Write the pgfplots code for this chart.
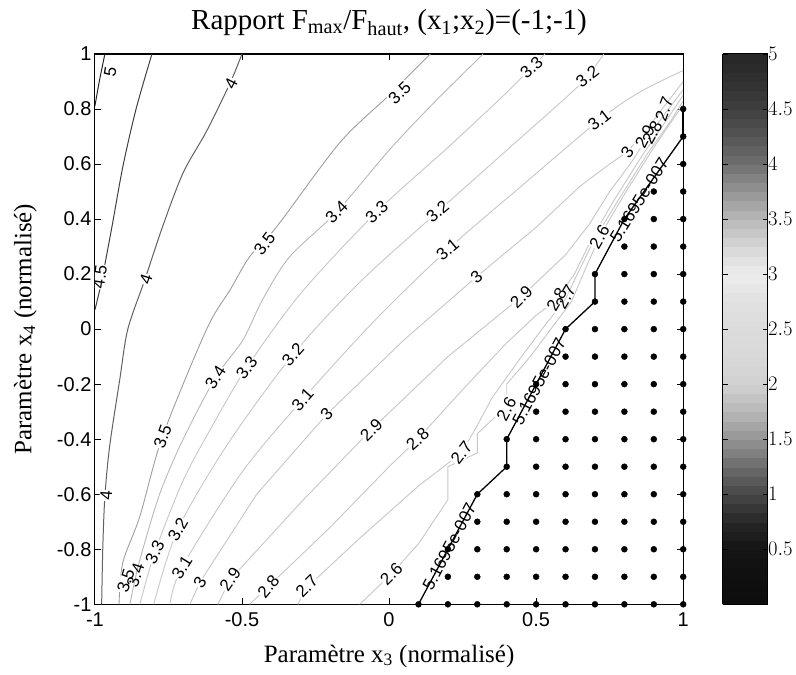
\documentclass[border=0pt]{standalone}
\usepackage{fontspec}
\setmainfont{Liberation Serif}
\setsansfont{Liberation Sans}
\usepackage{pgfplots}
\pgfplotsset{compat=1.18}
\definecolor{cl}{gray}{0.78}
\definecolor{c34}{gray}{0.72}
\definecolor{c35}{gray}{0.62}
\definecolor{c40}{gray}{0.38}
\definecolor{c45}{gray}{0.25}
\definecolor{c50}{gray}{0.15}
\tikzset{
  lab/.style={font=\fontsize{17bp}{17bp}\sffamily, fill=white, inner sep=0.6bp},
  blab/.style={font=\fontsize{17bp}{17bp}\sffamily, inner sep=0.6bp},
}
\pgfplotstableread{
x y
0.1 -1
0.2 -1
0.3 -1
0.4 -1
0.5 -1
0.6 -1
0.7 -1
0.8 -1
0.9 -1
1.0 -1
0.2 -0.9
0.3 -0.9
0.4 -0.9
0.5 -0.9
0.6 -0.9
0.7 -0.9
0.8 -0.9
0.9 -0.9
1.0 -0.9
0.2 -0.8
0.3 -0.8
0.4 -0.8
0.5 -0.8
0.6 -0.8
0.7 -0.8
0.8 -0.8
0.9 -0.8
1.0 -0.8
0.3 -0.7
0.4 -0.7
0.5 -0.7
0.6 -0.7
0.7 -0.7
0.8 -0.7
0.9 -0.7
1.0 -0.7
0.3 -0.6
0.4 -0.6
0.5 -0.6
0.6 -0.6
0.7 -0.6
0.8 -0.6
0.9 -0.6
1.0 -0.6
0.4 -0.5
0.5 -0.5
0.6 -0.5
0.7 -0.5
0.8 -0.5
0.9 -0.5
1.0 -0.5
0.4 -0.4
0.5 -0.4
0.6 -0.4
0.7 -0.4
0.8 -0.4
0.9 -0.4
1.0 -0.4
0.5 -0.3
0.6 -0.3
0.7 -0.3
0.8 -0.3
0.9 -0.3
1.0 -0.3
0.5 -0.2
0.6 -0.2
0.7 -0.2
0.8 -0.2
0.9 -0.2
1.0 -0.2
0.6 -0.1
0.7 -0.1
0.8 -0.1
0.9 -0.1
1.0 -0.1
0.6 0.0
0.7 0.0
0.8 0.0
0.9 0.0
1.0 0.0
0.7 0.1
0.8 0.1
0.9 0.1
1.0 0.1
0.7 0.2
0.8 0.2
0.9 0.2
1.0 0.2
0.8 0.3
0.9 0.3
1.0 0.3
0.8 0.4
0.9 0.4
1.0 0.4
0.9 0.5
1.0 0.5
1.0 0.6
1.0 0.7
1.0 0.8
}\infeas
\begin{document}
\begin{tikzpicture}
\begin{axis}[
  name=main,
  scale only axis, width=589bp, height=551bp,
  xmin=-1, xmax=1, ymin=-1, ymax=1,
  xtick={-1,-0.5,0,0.5,1},
  ytick={-1,-0.8,-0.6,-0.4,-0.2,0,0.2,0.4,0.6,0.8,1},
  tick align=inside, major tick length=6bp,
  tick style={line width=0.8bp, black},
  axis line style={line width=1.2bp},
  /pgf/number format/assume math mode=true,
  ticklabel style={font=\fontsize{20bp}{22bp}\sffamily},
  xticklabel style={yshift=-5bp},
  every axis title/.style={at={(axis description cs:0.5,1.044)}, anchor=base},
  title style={font=\fontsize{29bp}{32bp}\selectfont},
  title={Rapport F\textsubscript{max}/F\textsubscript{haut}, (x\textsubscript{1};x\textsubscript{2})=(-1;-1)},
  every axis x label/.style={at={(axis description cs:0.5,-0.094)}, anchor=center},
  every axis y label/.style={at={(axis description cs:-0.118,0.5)}, rotate=90, anchor=center},
  label style={font=\fontsize{25bp}{28bp}\selectfont},
  xlabel={Paramètre x\textsubscript{3} (normalisé)},
  ylabel={Paramètre x\textsubscript{4} (normalisé)},
  colormap={mat}{rgb(0cm)=(0.05,0.05,0.05); rgb(1cm)=(0.06,0.06,0.06); rgb(2cm)=(0.08,0.08,0.08); rgb(3cm)=(0.15,0.15,0.15); rgb(4cm)=(0.28,0.28,0.28); rgb(5cm)=(0.42,0.42,0.42); rgb(6cm)=(0.58,0.58,0.58); rgb(7cm)=(0.72,0.72,0.72); rgb(8cm)=(0.82,0.82,0.82); rgb(9cm)=(0.85,0.85,0.85); rgb(10cm)=(0.86,0.86,0.86); rgb(11cm)=(0.88,0.88,0.88); rgb(12cm)=(0.93,0.93,0.93); rgb(13cm)=(0.84,0.84,0.84); rgb(14cm)=(0.72,0.72,0.72); rgb(15cm)=(0.58,0.58,0.58); rgb(16cm)=(0.44,0.44,0.44); rgb(17cm)=(0.33,0.33,0.33); rgb(18cm)=(0.25,0.25,0.25); rgb(19cm)=(0.19,0.19,0.19); rgb(20cm)=(0.15,0.15,0.15)},
  point meta min=0, point meta max=5,
  colorbar sampled,
  colorbar style={
    samples=61,
    at={(parent axis.north east)}, anchor=north west, xshift=31bp,
    width=45bp,
    ytick={0.5,1,1.5,2,2.5,3,3.5,4,4.5,5},
    ytick pos=both, yticklabel pos=right,
    tick align=inside, major tick length=5bp,
    tick style={line width=0.8bp, black},
    axis line style={line width=1bp},
    yticklabel style={font=\fontsize{20bp}{22bp}\sffamily, xshift=-3bp},
  },
]
% contour lines
\addplot[c50, line width=1bp, smooth] coordinates {(-1.0,0.81) (-0.985,0.9) (-0.966,1.0)};
\addplot[c45, line width=1bp, smooth] coordinates {(-0.806,1.0) (-0.86,0.8) (-0.905,0.59) (-0.942,0.372) (-0.976,0.18) (-0.993,0.1) (-1.0,0.07)};
\addplot[c40, line width=1bp, smooth] coordinates {(-0.5,1.0) (-0.54,0.895) (-0.62,0.72) (-0.70,0.568) (-0.77,0.372) (-0.83,0.18) (-0.888,0.0) (-0.915,-0.18) (-0.95,-0.427) (-0.966,-0.608) (-0.973,-0.79) (-0.977,-1)};
\addplot[c35, line width=0.9bp, smooth] coordinates {(-0.918,-1) (-0.905,-0.848) (-0.847,-0.68) (-0.77,-0.39) (-0.62,0.0) (-0.54,0.143) (-0.474,0.263) (-0.382,0.372) (-0.168,0.677) (0.0,0.85) (0.14,1.0)};
\addplot[c34, line width=0.9bp, smooth] coordinates {(-0.881,-1) (-0.85,-0.85) (-0.78,-0.6) (-0.7,-0.4) (-0.59,-0.176) (-0.497,-0.04) (-0.43,0.107) (-0.338,0.263) (-0.178,0.426) (0.0,0.65) (0.15,0.82) (0.32,1.0)};
\addplot[cl, line width=0.9bp, smooth] coordinates {(-0.847,-1) (-0.796,-0.81) (-0.7,-0.55) (-0.6,-0.35) (-0.484,-0.14) (-0.3,0.13) (-0.042,0.426) (0.2,0.66) (0.4,0.86) (0.53,1.0)};
\addplot[cl, line width=0.9bp, smooth] coordinates {(-0.8,-1) (-0.718,-0.728) (-0.55,-0.42) (-0.327,-0.093) (-0.1,0.17) (0.165,0.426) (0.4,0.65) (0.6,0.84) (0.674,0.917) (0.73,1.0)};
\addplot[cl, line width=0.9bp, smooth] coordinates {(-0.745,-1) (-0.704,-0.866) (-0.5,-0.52) (-0.294,-0.256) (-0.05,0.03) (0.199,0.289) (0.45,0.52) (0.715,0.76) (0.85,0.86) (1.0,0.94)};
\addplot[cl, line width=0.9bp] coordinates {(-0.677,-1) (-0.643,-0.92) (-0.45,-0.6) (-0.212,-0.31) (0.05,-0.04) (0.297,0.19) (0.5,0.37) (0.65,0.52) (0.75,0.6) (0.81,0.644) (0.9,0.76) (1.0,0.9)};
\addplot[cl, line width=0.9bp] coordinates {(-0.582,-1) (-0.54,-0.91) (-0.3,-0.63) (-0.06,-0.365) (0.2,-0.1) (0.45,0.118) (0.6,0.27) (0.68,0.38) (0.75,0.5) (0.82,0.6) (0.88,0.7) (0.95,0.8) (1.0,0.87)};
\addplot[cl, line width=0.9bp] coordinates {(-0.474,-1) (-0.41,-0.935) (-0.2,-0.72) (0.0,-0.5) (0.097,-0.40) (0.25,-0.22) (0.4,-0.05) (0.5,0.05) (0.57,0.107) (0.63,0.2) (0.69,0.33) (0.76,0.46) (0.86,0.63) (0.95,0.77) (1.0,0.85)};
\addplot[cl, line width=0.9bp] coordinates {(-0.31,-1) (-0.28,-0.94) (-0.1,-0.76) (0.1,-0.57) (0.246,-0.45) (0.3,-0.35) (0.35,-0.25) (0.45,-0.1) (0.52,0.0) (0.6,0.11) (0.64,0.2) (0.7,0.33) (0.78,0.47) (0.88,0.64) (0.96,0.76) (1.0,0.83)};
\addplot[cl, line width=0.9bp] coordinates {(-0.1,-1) (0.008,-0.89) (0.1,-0.78) (0.2,-0.62) (0.2,-0.5) (0.3,-0.45) (0.3,-0.38) (0.36,-0.32) (0.4,-0.28) (0.4,-0.2) (0.48,-0.1) (0.55,0.0) (0.62,0.1) (0.66,0.2) (0.715,0.335) (0.8,0.49) (0.9,0.66) (0.97,0.77) (1.0,0.815)};
% boundary of the infeasible region
\addplot[black, line width=1.3bp] coordinates {(0.1,-1) (0.3,-0.6) (0.4,-0.5) (0.4,-0.4) (0.6,0) (0.7,0.1) (0.7,0.2) (0.8,0.4) (0.9,0.55) (1.0,0.7) (1.0,0.8)};
\addplot[black, line width=2.4bp] coordinates {(1.0,0.7) (1.0,0.8)};
% labels
\node[lab, rotate=80] at (axis cs:-0.948,0.935) {5};
\node[lab, rotate=63] at (axis cs:-0.537,0.893) {4};
\node[lab, rotate=82] at (axis cs:-0.983,0.19) {4.5};
\node[lab, rotate=72] at (axis cs:-0.826,0.18) {4};
\node[lab, rotate=86] at (axis cs:-0.962,-0.605) {4};
\node[lab, rotate=44] at (axis cs:0.036,0.858) {3.5};
\node[lab, rotate=53] at (axis cs:-0.423,0.31) {3.5};
\node[lab, rotate=70] at (axis cs:-0.77,-0.39) {3.5};
\node[lab, rotate=45] at (axis cs:-0.178,0.426) {3.4};
\node[lab, rotate=42] at (axis cs:-0.042,0.426) {3.3};
\node[lab, rotate=40] at (axis cs:0.165,0.426) {3.2};
\node[lab, rotate=42] at (axis cs:0.484,0.95) {3.3};
\node[lab, rotate=38] at (axis cs:0.674,0.917) {3.2};
\node[lab, rotate=38] at (axis cs:0.715,0.76) {3.1};
\node[lab, rotate=40] at (axis cs:0.199,0.289) {3.1};
\node[lab, rotate=40] at (axis cs:0.297,0.19) {3};
\node[lab, rotate=45] at (axis cs:0.45,0.118) {2.9};
\node[lab, rotate=57] at (axis cs:-0.59,-0.176) {3.4};
\node[lab, rotate=52] at (axis cs:-0.484,-0.14) {3.3};
\node[lab, rotate=48] at (axis cs:-0.327,-0.093) {3.2};
\node[lab, rotate=48] at (axis cs:-0.294,-0.256) {3.1};
\node[lab, rotate=45] at (axis cs:-0.212,-0.31) {3};
\node[lab, rotate=45] at (axis cs:-0.06,-0.365) {2.9};
\node[lab, rotate=42] at (axis cs:0.097,-0.40) {2.8};
\node[lab, rotate=52] at (axis cs:0.246,-0.45) {2.7};
\node[lab, rotate=62] at (axis cs:0.399,-0.29) {2.6};
\node[lab, rotate=60] at (axis cs:0.715,0.335) {2.6};
\node[lab, rotate=60] at (axis cs:0.57,0.107) {2.8};
\node[blab, rotate=60] at (axis cs:0.60,0.117) {2.7};
\node[lab, rotate=45] at (axis cs:0.008,-0.89) {2.6};
\node[lab, rotate=72] at (axis cs:-0.895,-0.915) {3.5};
\node[blab, rotate=72] at (axis cs:-0.862,-0.895) {3.4};
\node[lab, rotate=65] at (axis cs:-0.796,-0.81) {3.3};
\node[lab, rotate=60] at (axis cs:-0.718,-0.728) {3.2};
\node[lab, rotate=58] at (axis cs:-0.704,-0.866) {3.1};
\node[lab, rotate=58] at (axis cs:-0.643,-0.92) {3};
\node[lab, rotate=55] at (axis cs:-0.54,-0.91) {2.9};
\node[lab, rotate=50] at (axis cs:-0.41,-0.935) {2.8};
\node[lab, rotate=45] at (axis cs:-0.28,-0.935) {2.7};
\node[lab, rotate=55] at (axis cs:0.81,0.644) {3};
\node[lab, rotate=62] at (axis cs:0.87,0.70) {2.9};
\node[blab, rotate=62] at (axis cs:0.895,0.715) {2.8};
\node[blab, rotate=70] at (axis cs:0.935,0.80) {2.7};
\node[blab, rotate=62] at (axis cs:0.205,-0.79) {5.1695e-007};
\node[blab, rotate=62] at (axis cs:0.51,-0.19) {5.1695e-007};
\node[blab, rotate=58] at (axis cs:0.85,0.47) {5.1695e-007};
% infeasible grid points
\addplot[only marks, mark=*, mark size=3bp, black] table[x=x, y=y] {\infeas};
\end{axis}
\path (main.south west) ++(-95bp,-70bp) rectangle ++(796bp,675bp);
\end{tikzpicture}
\end{document}
